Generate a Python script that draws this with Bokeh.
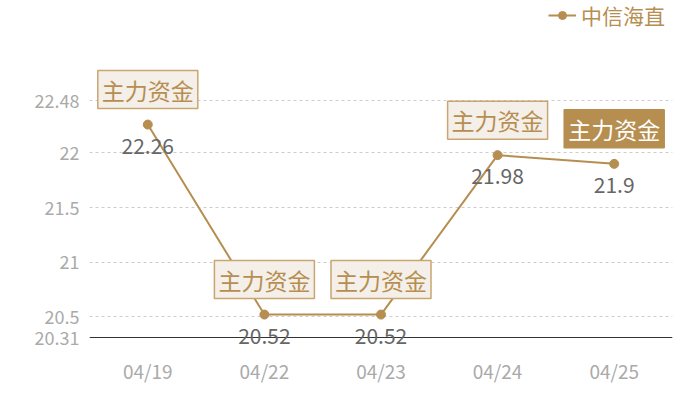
from bokeh.plotting import figure
from bokeh.models import (ColumnDataSource, FactorRange, Range1d, FixedTicker,
                          LabelSet, Label, Legend, LegendItem, Span)
from bokeh.core.properties import value
from bokeh.embed import file_html
from bokeh.resources import INLINE

dates = ["04/19", "04/22", "04/23", "04/24", "04/25"]
prices = [22.26, 20.52, 20.52, 21.98, 21.9]
price_labels = ["22.26", "20.52", "20.52", "21.98", "21.9"]
flag_text = "主力资金"
highlight = [False, False, False, False, True]
y_ticks = [20.31, 20.5, 21, 21.5, 22, 22.48]
y_tick_labels = ["20.31", "20.5", "21", "21.5", "22", "22.48"]
series_name = "中信海直"

TAN = "#b68e50"
FONT = "Noto Sans CJK SC"

p = figure(width=700, height=400, output_backend="svg", toolbar_location=None,
           x_range=FactorRange(*dates, range_padding=0),
           y_range=Range1d(20.191, 23.396),
           min_border_left=89, min_border_right=28,
           min_border_top=0, min_border_bottom=50)
p.outline_line_color = None
p.background_fill_color = "white"
p.border_fill_color = "white"

src = ColumnDataSource(dict(x=dates, y=prices, lab=price_labels))

# grid
p.xgrid.visible = False
p.ygrid.grid_line_color = "#cccccc"
p.ygrid.grid_line_dash = "3 3"
p.ygrid.grid_line_width = 1

# baseline (value axis minimum)
p.add_layout(Span(location=y_ticks[0], dimension="width",
                  line_color="#333333", line_width=1))

ln = p.line("x", "y", source=src, line_color=TAN, line_width=2)
sc = p.scatter("x", "y", source=src, size=9, fill_color=TAN, line_color=TAN)

# axes
p.yaxis.ticker = FixedTicker(ticks=y_ticks)
p.yaxis.major_label_overrides = {t: l for t, l in zip(y_ticks, y_tick_labels)}
p.yaxis.axis_line_color = None
p.yaxis.major_tick_line_color = None
p.yaxis.minor_tick_line_color = None
p.yaxis.major_label_text_color = "#aaaaaa"
p.yaxis.major_label_text_font = FONT
p.yaxis.major_label_text_font_size = "18px"
p.yaxis.major_label_standoff = 4

p.xaxis.axis_line_color = None
p.xaxis.major_tick_line_color = None
p.xaxis.minor_tick_line_color = None
p.xaxis.major_label_text_color = "#aaaaaa"
p.xaxis.major_label_text_font = FONT
p.xaxis.major_label_text_font_size = "19px"
p.xaxis.major_label_standoff = 0

# value labels
vals = LabelSet(x="x", y="y", text="lab", source=src, y_offset=-21,
                text_align="center", text_baseline="middle",
                text_color="#666666", text_font=value(FONT),
                text_font_size="21px")
p.add_layout(vals)

# flag boxes (categorical position i -> synthetic coordinate i + 0.5)
for i, (v, h) in enumerate(zip(prices, highlight)):
    lbl = Label(x=i + 0.5, y=v, text=flag_text, y_offset=35,
                text_align="center", text_baseline="middle",
                text_font=FONT, text_font_size="23px",
                text_color="white" if h else TAN,
                background_fill_color=TAN if h else "#f4efe8",
                background_fill_alpha=1.0,
                border_line_color=TAN if h else "#c9a670",
                border_line_width=1.5,
                padding=dict(left=4, right=4, top=2, bottom=2))
    p.add_layout(lbl)

legend = Legend(items=[LegendItem(label=series_name, renderers=[ln, sc])],
                location=(459, 320), orientation="horizontal",
                border_line_color=None, background_fill_alpha=0,
                label_text_font=FONT, label_text_font_size="21px",
                label_text_color=TAN, glyph_width=28, glyph_height=20,
                label_standoff=5, padding=0, margin=0)
p.add_layout(legend)

open("out.html", "w").write(file_html(p, INLINE))
